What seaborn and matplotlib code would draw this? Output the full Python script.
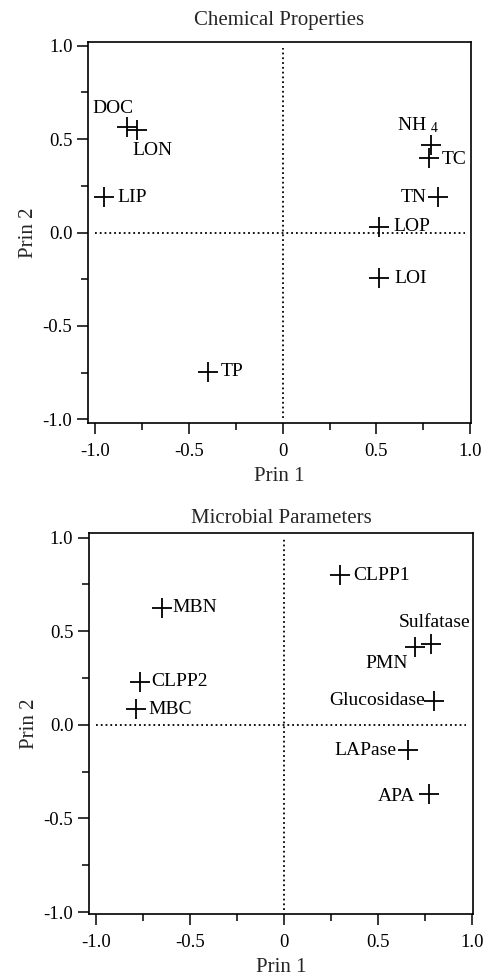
"""
PCA loading plots (Prin 1 vs Prin 2) for chemical properties and microbial parameters.
"""

import matplotlib
matplotlib.use("Agg")
import matplotlib.pyplot as plt
from matplotlib.ticker import MultipleLocator
import seaborn as sns
import pandas as pd

# Chemical properties loadings
chem_names = ["DOC", "LON", "LIP", "TP", "NH $_4$", "TC", "TN", "LOP", "LOI"]
chem_prin1 = [-0.83, -0.775, -0.955, -0.40, 0.79, 0.78, 0.83, 0.515, 0.515]
chem_prin2 = [0.565, 0.55, 0.19, -0.745, 0.47, 0.40, 0.19, 0.03, -0.245]

# Microbial parameter loadings
micro_names = ["CLPP1", "MBN", "Sulfatase", "PMN", "CLPP2", "MBC",
               "Glucosidase", "LAPase", "APA"]
micro_prin1 = [0.30, -0.647, 0.784, 0.697, -0.762, -0.784, 0.80, 0.66, 0.771]
micro_prin2 = [0.80, 0.626, 0.43, 0.416, 0.231, 0.084, 0.128, -0.135, -0.37]

# Axis tick labels
x_ticks = [-1.0, -0.5, 0.0, 0.5, 1.0]
x_tick_labels = ["-1.0", "-0.5", "0", "0.5", "1.0"]
y_ticks = [-1.0, -0.5, 0.0, 0.5, 1.0]
y_tick_labels = ["-1.0", "-0.5", "0.0", "0.5", "1.0"]

# Label placement (offset in points, horizontal alignment)
chem_label_pos = {
    "DOC": ((-10, 13), "center"),
    "LON": ((11, -15), "center"),
    "LIP": ((10, 0), "left"),
    "TP": ((9, 0), "left"),
    "NH $_4$": ((6, 14), "right"),
    "TC": ((9.5, -1), "left"),
    "TN": ((-8, 0), "right"),
    "LOP": ((10, 0), "left"),
    "LOI": ((11, 0), "left"),
}
micro_label_pos = {
    "CLPP1": ((9.5, 0), "left"),
    "MBN": ((7.5, 0), "left"),
    "Sulfatase": ((2.5, 16), "center"),
    "PMN": ((-5, -12), "right"),
    "CLPP2": ((8, 0), "left"),
    "MBC": ((9, 0), "left"),
    "Glucosidase": ((-6.5, 0), "right"),
    "LAPase": ((-8.5, 0), "right"),
    "APA": ((-10, -1.5), "right"),
}

sns.set_theme(style="ticks")
plt.rcParams["font.family"] = ["Liberation Serif", "DejaVu Serif"]
plt.rcParams["mathtext.fontset"] = "custom"
plt.rcParams["mathtext.rm"] = "Liberation Serif"
plt.rcParams["mathtext.default"] = "regular"
plt.rcParams["axes.unicode_minus"] = False


def draw_panel(ax, names, prin1, prin2, label_pos, title, xlim, ylim, title_pad):
    """Draw one loading plot panel."""
    df = pd.DataFrame({"name": names, "prin1": prin1, "prin2": prin2})

    # Reference lines through the origin
    ax.plot([-1.0, 0.97], [0, 0], ls=":", color="black", lw=1.3, zorder=1)
    ax.plot([0, 0], [-0.99, 0.99], ls=":", color="black", lw=1.3, zorder=1)

    sns.scatterplot(data=df, x="prin1", y="prin2", marker="+", s=190,
                    color="black", linewidth=1.3, ax=ax, zorder=3)

    for _, row in df.iterrows():
        offset, ha = label_pos[row["name"]]
        ax.annotate(row["name"], (row["prin1"], row["prin2"]),
                    xytext=offset, textcoords="offset points",
                    ha=ha, va="center", fontsize=14, color="black")

    ax.set_xlim(*xlim)
    ax.set_ylim(*ylim)
    ax.set_xticks(x_ticks)
    ax.set_xticklabels(x_tick_labels)
    ax.set_yticks(y_ticks)
    ax.set_yticklabels(y_tick_labels)
    ax.xaxis.set_minor_locator(MultipleLocator(0.25))
    ax.yaxis.set_minor_locator(MultipleLocator(0.25))
    ax.tick_params(which="major", direction="out", length=8, width=1.1,
                   labelsize=13.5, colors="black")
    ax.tick_params(axis="x", which="major", pad=6)
    ax.tick_params(axis="y", which="major", pad=3.5)
    ax.tick_params(which="minor", direction="out", length=4.7, width=1.1,
                   colors="black")

    for spine in ax.spines.values():
        spine.set_visible(True)
        spine.set_linewidth(1.2)
        spine.set_color("black")

    ax.set_xlabel("Prin 1", fontsize=15, labelpad=5)
    ax.set_ylabel("Prin 2", fontsize=15, labelpad=3)
    ax.set_title(title, fontsize=15, pad=title_pad)


fig = plt.figure(figsize=(4.91, 9.77), dpi=100)
ax_top = fig.add_axes([0.180, 0.5667, 0.7787, 0.3906])
ax_bot = fig.add_axes([0.1819, 0.0642, 0.7808, 0.3900])

draw_panel(ax_top, chem_names, chem_prin1, chem_prin2, chem_label_pos,
           "Chemical Properties", (-1.037, 1.003), (-1.021, 1.021), 12)
draw_panel(ax_bot, micro_names, micro_prin1, micro_prin2, micro_label_pos,
           "Microbial Parameters", (-1.034, 1.005), (-1.012, 1.023), 7.5)

fig.savefig("out.png", dpi=100)
plt.close(fig)
